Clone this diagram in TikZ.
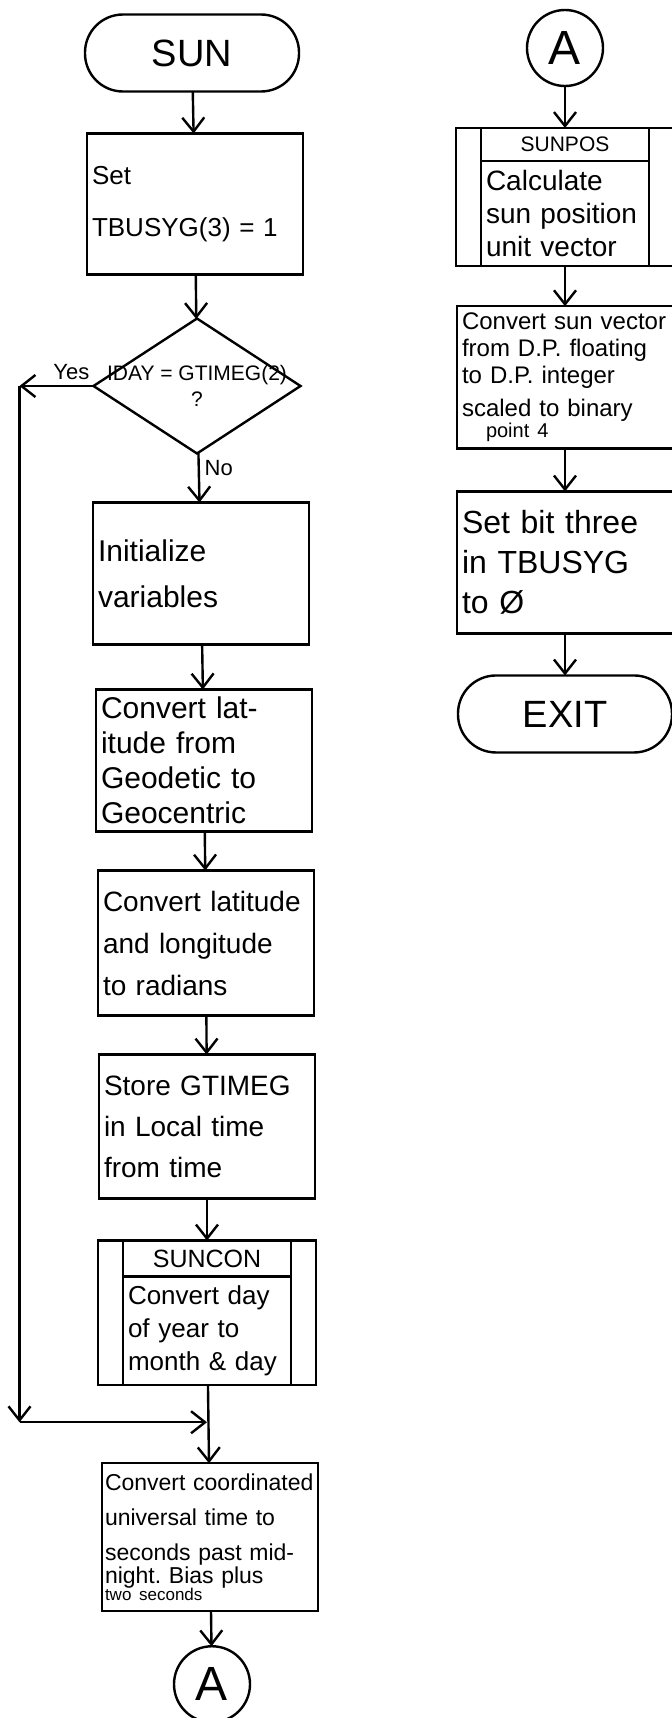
\documentclass[tikz,border=0pt]{standalone}
\usepackage{fontspec}
\setmainfont{Liberation Sans}
\usetikzlibrary{arrows.meta,positioning,shapes.geometric,shapes.multipart}

\newcommand{\sz}[2]{\fontsize{#1}{#2}\selectfont}

\begin{document}
\begin{tikzpicture}[
    x=0.5pt, y=-0.5pt,
    line width=1.2pt,
    node distance = 21pt and 0pt,
    every node/.append style = {outer sep=0pt},
    term/.style = {rectangle, rounded corners=19pt, draw, minimum width=107pt,
                   minimum height=38.5pt, font=\sz{19}{22}},
    box/.style = {rectangle, draw, text width=103pt, align=left, inner xsep=2.5pt,
                  minimum height=71pt, font=\sz{14}{17}},
    subr/.style = {rectangle split, rectangle split parts=2, draw, text width=79pt,
                   align=left, inner xsep=2.5pt, inner ysep=4pt, font=\sz{13}{16.5}},
    decision/.style = {diamond, draw, minimum width=103.5pt, minimum height=67.5pt,
                       inner sep=0pt},
    conn/.style = {circle, draw, minimum size=38pt, inner sep=0pt, font=\sz{24}{24}},
    tag/.style = {font=\sz{11}{13}, inner sep=3pt},
    arrow/.style = {-{Straight Barb[length=7pt,width=11pt]}, line width=1.2pt}
  ]
    \useasboundingbox[fill=white] (0,0) rectangle (671,1718);

    % main routine
    \node[term] (sun) at (192,53) {SUN};
    \node[box, below=of sun, xshift=1.5pt, minimum height=70.5pt, font=\sz{13}{17}] (set) {Set\\[9pt]TBUSYG(3) = 1\\[4pt]};
    \node[decision, below=22pt of set, xshift=1pt,
          label={[font=\sz{10.5}{13}, align=center]center:IDAY = GTIMEG(2)\\?}] (day) {};
    \node[box, below=24.5pt of day, xshift=2pt, font=\sz{15}{17}] (init) {Initialize\\[6pt]variables};
    \node[box, below=22.5pt of init, xshift=1.5pt, font=\sz{15}{17.5}] (lat) {Convert lat-\\itude from\\Geodetic to\\Geocentric};
    \node[box, below=19.5pt of lat, xshift=1pt, minimum height=72.5pt, font=\sz{14}{21}] (rad) {Convert latitude\\and longitude\\to radians};
    \node[box, below=19.5pt of rad, xshift=0.5pt, minimum height=72pt, font=\sz{14}{20.5}] (store) {Store GTIMEG\\in Local time\\from time};
    \node[subr, below=of store] (suncon) {\hfill\sz{12.5}{14}SUNCON\hfill\mbox{} \nodepart{two} Convert day\\of year to\\month \& day};
    \coordinate[below=18.5pt of suncon] (join);
    \node[box, below=39pt of suncon, xshift=1.5pt, minimum height=74pt, text width=105pt,
          inner xsep=1.5pt, font=\sz{11.5}{14.5}] (utc) {Convert coordinated\\[3pt]universal time to\\[3pt]seconds past mid-\\[-3pt]night.\ Bias plus\\[-6pt]{\sz{8.5}{9}two seconds}};
    \node[conn, below=17.5pt of utc, xshift=1pt] (aout) {A};

    % Yes branch goes round the left side
    \coordinate (yes1) at ([xshift=-37pt]day.west);
    \coordinate (yes2) at (yes1 |- join);

    \draw[arrow] (sun) -- (set);
    \draw[arrow] (set) -- (day);
    \draw[arrow] (day) -- node[right, pos=0.3, tag] {No} (init);
    \draw[arrow] (init) -- (lat);
    \draw[arrow] (lat) -- (rad);
    \draw[arrow] (rad) -- (store);
    \draw[arrow] (store) -- (suncon);
    \draw[arrow] (suncon) -- (utc);
    \draw[arrow] (utc) -- (aout);
    \draw[arrow] (day) -- node[above, pos=0.3, tag] {Yes} (yes1);
    \draw[arrow] (yes1) -- (yes2);
    \draw[arrow] (yes2) -- (join);

    % continuation at A
    \node[conn] (ain) at (565,48) {A};
    \node[subr, below=of ain, font=\sz{14}{16.5}] (sunpos) {\hfill\sz{10.5}{13}SUNPOS\hfill\mbox{} \nodepart{two} Calculate\\sun position\\unit vector};
    \node[box, below=20pt of sunpos, font=\sz{12}{13.5}] (vec) {Convert sun vector\\from D.P. floating\\to D.P. integer\\[3pt]scaled to binary\\[-3pt]\hspace*{12pt}{\sz{10}{11}point 4}};
    \node[box, below=21.5pt of vec, font=\sz{16}{20}] (bit) {Set bit three\\in TBUSYG\\to Ø};
    \node[term, below=21pt of bit] (exit) {EXIT};

    \draw[arrow] (ain) -- (sunpos);
    \draw[arrow] (sunpos) -- (vec);
    \draw[arrow] (vec) -- (bit);
    \draw[arrow] (bit) -- (exit);

    % outer frame of the subroutine boxes
    \foreach \n in {suncon, sunpos}
      \draw ([xshift=-12.5pt]\n.north west) rectangle ([xshift=12.5pt]\n.south east);
\end{tikzpicture}
\end{document}
